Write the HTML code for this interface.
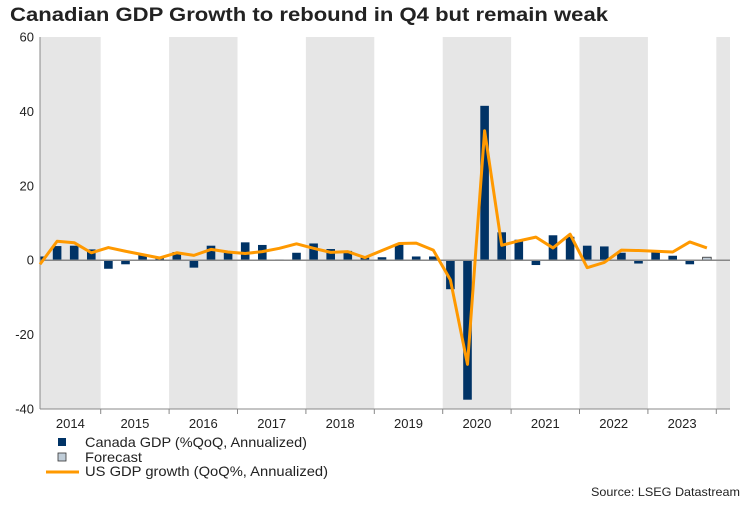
<!DOCTYPE html>
<html><head><meta charset="utf-8"><style>
body{margin:0;background:#fff;font-family:"Liberation Sans",sans-serif;}
</style></head><body>
<svg id="c" width="750" height="500" xmlns="http://www.w3.org/2000/svg" font-family="Liberation Sans, sans-serif">
<text x="10" y="21" font-size="19" font-weight="bold" fill="#222" textLength="598" lengthAdjust="spacingAndGlyphs">Canadian GDP Growth to rebound in Q4 but remain weak</text>
<g id="bands"></g><g id="bars"></g><g id="axes"></g><g id="line"></g>
<g font-size="14" fill="#222">
<rect x="58" y="438" width="8" height="8" fill="#003366"/>
<text x="85" y="447" textLength="222" lengthAdjust="spacingAndGlyphs">Canada GDP (%QoQ, Annualized)</text>
<rect x="58" y="453" width="8" height="8" fill="#c0cdd8" stroke="#333" stroke-width="0.8"/>
<text x="85" y="462" textLength="57" lengthAdjust="spacingAndGlyphs">Forecast</text>
<line x1="46" y1="472" x2="79" y2="472" stroke="#ff9900" stroke-width="3"/>
<text x="85" y="476" textLength="243" lengthAdjust="spacingAndGlyphs">US GDP growth (QoQ%, Annualized)</text>
</g>
<text x="740" y="496" font-size="12" text-anchor="end" fill="#222" textLength="149" lengthAdjust="spacingAndGlyphs">Source: LSEG Datastream</text>
</svg>
<script>
const years=["2014","2015","2016","2017","2018","2019","2020","2021","2022","2023"];
const canada=[1.0,3.8,3.9,2.9,-2.3,-1.1,1.5,0.5,2.2,-2.0,3.9,2.0,4.8,4.1,0.2,2.0,4.5,3.0,2.5,0.7,0.8,4.4,1.0,1.0,-7.8,-37.5,41.5,7.5,5.5,-1.3,6.7,6.3,3.9,3.7,2.0,-0.9,2.2,1.2,-1.1];
const forecast=[0.8];
const us=[-1.1,5.1,4.7,2.0,3.4,2.4,1.5,0.6,2.0,1.3,2.9,2.2,1.8,2.3,3.2,4.4,3.2,2.1,2.3,0.7,2.6,4.5,4.6,2.7,-5.3,-28.0,34.8,4.0,5.2,6.2,3.3,7.0,-2.0,-0.6,2.7,2.6,2.4,2.2,4.9,3.3];
const yTicks=[60,40,20,0,-20,-40];
const L=40,R=730,T=37,B=409,step=17.1;
const X=i=>L+i*step;
const Y=v=>T+(60-v)*(B-T)/100;
const NS="http://www.w3.org/2000/svg";
function mk(p,t,a){const e=document.createElementNS(NS,t);for(const k in a)e.setAttribute(k,a[k]);p.appendChild(e);return e;}
const bands=document.getElementById('bands'),bars=document.getElementById('bars'),axes=document.getElementById('axes'),line=document.getElementById('line');
for(let k=0;k<=years.length;k++){
  const x0=Math.max(L,X(4*k-0.45)),x1=Math.min(R,X(4*k+3.55));
  if(k%2===0&&x1>x0){const r=mk(bands,'rect',{x:x0,y:T,width:x1-x0,height:B-T,fill:'#e6e6e6'});
  
  }
  if(k<years.length){const t=mk(axes,'text',{x:(x0+x1)/2,y:428,'font-size':13,'text-anchor':'middle',fill:'#222'});t.textContent=years[k];
  
  }
  if(k>0){const tk=mk(axes,'line',{x1:X(4*k-0.45),x2:X(4*k-0.45),y1:B,y2:B+5,stroke:'#888'});
  
  }
}
canada.forEach((v,i)=>{const x0=Math.max(L,X(i)-4.3),x1=X(i)+4.3;
  const r=mk(bars,'rect',{x:x0,y:Math.min(Y(v),Y(0)),width:x1-x0,height:Math.abs(Y(v)-Y(0)),fill:'#003366'});
  
  });
forecast.forEach((v,j)=>{const i=canada.length+j;
  const r=mk(bars,'rect',{x:X(i)-4.3,y:Math.min(Y(v),Y(0)),width:8.6,height:Math.abs(Y(v)-Y(0)),fill:'#c0cdd8',stroke:'#333','stroke-width':0.8});
  
  });
yTicks.forEach(v=>{const t=mk(axes,'text',{x:34,y:Y(v)+4.5,'font-size':13,'text-anchor':'end',fill:'#222'});t.textContent=v;
  
  });
const z=mk(axes,'line',{x1:L,x2:R,y1:Y(0),y2:Y(0),stroke:'#888','stroke-width':1.5});


const ya=mk(axes,'line',{x1:L,x2:L,y1:T,y2:B,stroke:'#888'});


const xa=mk(axes,'line',{x1:L,x2:R,y1:B,y2:B,stroke:'#888'});


const pl=mk(line,'polyline',{points:us.map((v,i)=>X(i)+','+Y(v)).join(' '),fill:'none',stroke:'#ff9900','stroke-width':3,'stroke-linejoin':'round'});


</script>
</body></html>
